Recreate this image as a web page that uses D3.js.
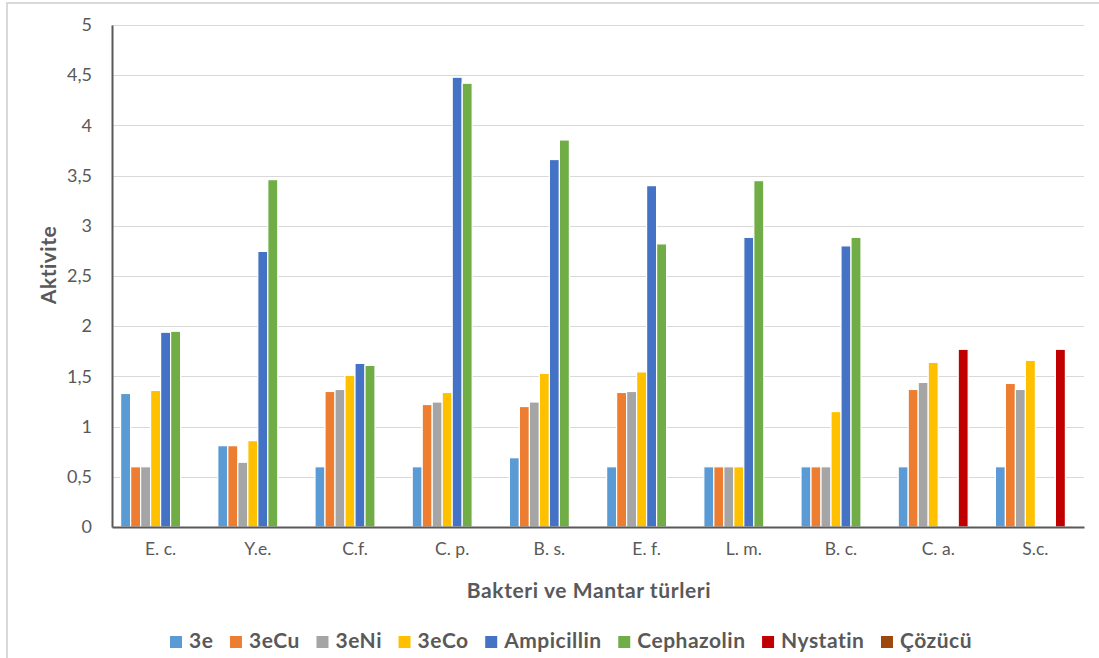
<!DOCTYPE html>
<html>
<head>
<meta charset="utf-8">
<script src="https://cdn.jsdelivr.net/npm/d3@7"></script>
<style>
  html, body { margin: 0; padding: 0; background: #fff; }
  svg { display: block; font-family: Lato, "Open Sans", sans-serif; }
</style>
</head>
<body>
<svg id="chart" width="1099" height="658"></svg>
<script>
// ---- Data ----
const categories = ["E. c.", "Y.e.", "C.f.", "C. p.", "B. s.", "E. f.", "L. m.", "B. c.", "C. a.", "S.c."];
const seriesNames = ["3e", "3eCu", "3eNi", "3eCo", "Ampicillin", "Cephazolin", "Nystatin", "Çözücü"];
const s3e        = [1.33, 0.81, 0.60, 0.60, 0.69, 0.60, 0.60, 0.60, 0.60, 0.60];
const s3eCu      = [0.60, 0.81, 1.35, 1.22, 1.20, 1.34, 0.60, 0.60, 1.37, 1.43];
const s3eNi      = [0.60, 0.645, 1.37, 1.245, 1.245, 1.35, 0.60, 0.60, 1.44, 1.37];
const s3eCo      = [1.36, 0.86, 1.51, 1.34, 1.53, 1.545, 0.60, 1.15, 1.64, 1.66];
const sAmpicillin = [1.94, 2.745, 1.63, 4.48, 3.66, 3.40, 2.885, 2.80, 0, 0];
const sCephazolin = [1.95, 3.46, 1.61, 4.42, 3.855, 2.82, 3.45, 2.885, 0, 0];
const sNystatin  = [0, 0, 0, 0, 0, 0, 0, 0, 1.77, 1.77];
const sCozucu    = [0, 0, 0, 0, 0, 0, 0, 0, 0, 0];
const yTicks = [0, 0.5, 1, 1.5, 2, 2.5, 3, 3.5, 4, 4.5, 5];
const yTickLabels = ["0", "0,5", "1", "1,5", "2", "2,5", "3", "3,5", "4", "4,5", "5"];
const colors = ["#5B9BD5", "#ED7D31", "#A5A5A5", "#FFC000", "#4472C4", "#70AD47", "#C00000", "#9E480E"];
const seriesValues = [s3e, s3eCu, s3eNi, s3eCo, sAmpicillin, sCephazolin, sNystatin, sCozucu];

// ---- Layout ----
const svg = d3.select("#chart");
const plot = { left: 112, right: 1084, top: 25, bottom: 527 };
const axisColor = "#595959";
const textColor = "#595959";

// chart border
svg.append("rect")
  .attr("x", 7).attr("y", 3).attr("width", 1120).attr("height", 700)
  .attr("fill", "none").attr("stroke", "#d9d9d9").attr("stroke-width", 2);

const x0 = d3.scaleBand().domain(categories).range([plot.left, plot.right])
  .paddingInner(0.177).paddingOuter(0.0885);
const x1 = d3.scaleBand().domain(seriesNames).range([0, x0.bandwidth()]);
const y = d3.scaleLinear().domain([0, 5]).range([plot.bottom, plot.top]);

// gridlines
svg.append("g")
  .selectAll("line").data(yTicks.filter(d => d > 0)).join("line")
  .attr("x1", plot.left).attr("x2", plot.right)
  .attr("y1", d => Math.round(y(d)) + 0.5).attr("y2", d => Math.round(y(d)) + 0.5)
  .attr("stroke", "#d9d9d9").attr("stroke-width", 1.2);

// bars
const groups = svg.append("g").selectAll("g").data(categories).join("g")
  .attr("transform", d => `translate(${x0(d)},0)`);
groups.selectAll("rect")
  .data((c, ci) => seriesNames.map((s, si) => ({ s, si, v: seriesValues[si][ci] })))
  .join("rect")
  .filter(d => d.v > 0)
  .attr("x", d => x1(d.s))
  .attr("width", x1.bandwidth())
  .attr("y", d => y(d.v))
  .attr("height", d => y(0) - y(d.v))
  .attr("fill", d => colors[d.si])
  .attr("stroke", "#fff").attr("stroke-width", 1.2);

// y axis
const yAxis = d3.axisLeft(y).tickValues(yTicks)
  .tickFormat((d, i) => yTickLabels[i]).tickSize(0).tickPadding(20);
const gy = svg.append("g").attr("transform", `translate(${plot.left},0)`).call(yAxis);
gy.select(".domain").attr("stroke", axisColor).attr("stroke-width", 2);
gy.selectAll("text").attr("fill", textColor).attr("font-size", 18)
  .attr("font-family", "Lato, sans-serif");

// x axis
const xAxis = d3.axisBottom(x0).tickSize(0).tickPadding(16);
const gx = svg.append("g").attr("transform", `translate(0,${plot.bottom})`).call(xAxis);
gx.select(".domain").attr("stroke", axisColor).attr("stroke-width", 2);
gx.selectAll("text").attr("fill", textColor).attr("font-size", 17.5)
  .attr("font-family", "Lato, sans-serif");

// axis titles
svg.append("text")
  .attr("x", 589).attr("y", 598)
  .attr("text-anchor", "middle")
  .attr("font-size", 21).attr("font-weight", "bold").attr("fill", textColor)
  .attr("letter-spacing", 0.6)
  .text("Bakteri ve Mantar türleri");
svg.append("text")
  .attr("transform", "translate(56,265) rotate(-90)")
  .attr("text-anchor", "middle")
  .attr("font-size", 21).attr("font-weight", "bold").attr("fill", textColor)
  .attr("letter-spacing", 0.5)
  .text("Aktivite");

// legend
const legend = svg.append("g");
const sq = 12, sqGap = 7;
const items = legend.selectAll("g").data(seriesNames).join("g");
items.append("rect").attr("width", sq).attr("height", sq).attr("y", 636)
  .attr("fill", (d, i) => colors[i]);
items.append("text").attr("x", sq + sqGap).attr("y", 648)
  .attr("font-size", 21).attr("font-weight", "bold").attr("fill", textColor)
  .attr("letter-spacing", 0.5)
  .text(d => d);
const widths = [];
items.each(function () { widths.push(sq + sqGap + d3.select(this).select("text").node().getComputedTextLength()); });
const legStart = 170, legEnd = 972;
const spacing = (legEnd - legStart - d3.sum(widths)) / (widths.length - 1);
let cx = legStart;
items.attr("transform", (d, i) => { const t = `translate(${cx},0)`; cx += widths[i] + spacing; return t; });
</script>
</body>
</html>
